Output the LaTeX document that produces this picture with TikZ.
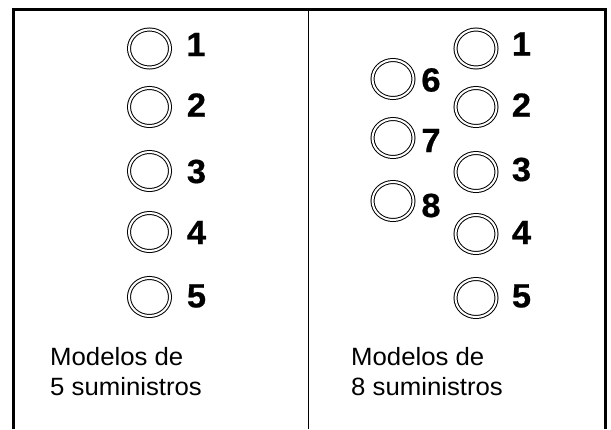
\documentclass[tikz,border=0pt]{standalone}
\usepackage{fontspec}
\setmainfont{Liberation Sans}
\newfontfamily\numfont[FakeStretch=1.03,FakeBold=0.6]{Liberation Sans}
\newfontfamily\capfont[FakeStretch=1.03]{Liberation Sans}
\usetikzlibrary{shapes.geometric}
\begin{document}
\begin{tikzpicture}[x=1pt,y=-1pt,
  port/.style={ellipse,draw=black,line width=1pt,double=white,double distance=2pt,
    minimum width=41pt,minimum height=38pt,inner sep=0pt},
  num/.style={inner sep=0pt,font=\numfont\bfseries\fontsize{33.5}{33.5}\selectfont},
  captext/.style={inner sep=0pt,anchor=base west,font=\capfont\fontsize{25}{30}\selectfont}]
\useasboundingbox (0,0) rectangle (611,429);
% frame
\coordinate (fbl) at (13.5,429);
\coordinate (ftl) at (13.5,9);
\coordinate (ftr) at (605,9);
\coordinate (fbr) at (605,429);
\draw[line width=3pt] (fbl) -- (ftl) -- (ftr) -- (fbr);
\coordinate (dt) at (308,9);
\coordinate (db) at (308,429);
\draw[line width=1pt] (dt) -- (db);
% left column
\node[port] (a1) at (149.5,48.5) {};
\node[port] (a2) at (149.5,107) {};
\node[port] (a3) at (149.5,171) {};
\node[port] (a4) at (149.5,232) {};
\node[port] (a5) at (149.5,297) {};
\node[num] (na1) at (196,44.5) {1};
\node[num] (na2) at (196.5,105) {2};
\node[num] (na3) at (196.5,171.5) {3};
\node[num] (na4) at (196.5,232.5) {4};
\node[num] (na5) at (196.5,296) {5};
\node[captext] (ta1) at (50,365) {Modelos de};
\node[captext] (ta2) at (50,395) {5 suministros};
% right column
\node[port] (b1) at (476,48.5) {};
\node[port] (b2) at (476,107) {};
\node[port] (b3) at (476,172) {};
\node[port] (b4) at (476,234) {};
\node[port] (b5) at (476,298) {};
\node[port] (b6) at (393,79) {};
\node[port] (b7) at (393,138) {};
\node[port] (b8) at (393,201) {};
\node[num] (nb1) at (521.5,44) {1};
\node[num] (nb2) at (521.5,105) {2};
\node[num] (nb3) at (521.5,169.5) {3};
\node[num] (nb4) at (521.5,232.5) {4};
\node[num] (nb5) at (521.5,296) {5};
\node[num] (nb6) at (431,80) {6};
\node[num] (nb7) at (431,140.5) {7};
\node[num] (nb8) at (431,205.5) {8};
\node[captext] (tb1) at (351,365) {Modelos de};
\node[captext] (tb2) at (351,395) {8 suministros};
\end{tikzpicture}
\end{document}
